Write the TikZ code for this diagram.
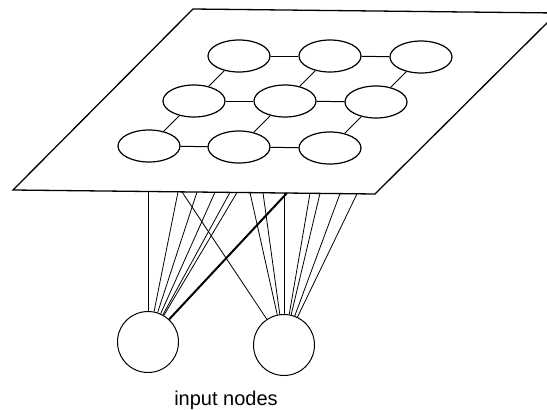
\documentclass[tikz,border=0pt]{standalone}
\usepackage{fontspec}
\setmainfont{Liberation Sans}
\usetikzlibrary{shapes.geometric}
\begin{document}
\begin{tikzpicture}[x=1pt,y=-1pt,
  unit/.style={draw, ellipse, minimum width=62pt, minimum height=32pt, inner sep=0pt, line width=1.2pt},
  innode/.style={draw, circle, minimum size=61pt, inner sep=0pt, line width=1pt},
  link/.style={line width=1pt},
  wire/.style={line width=0.8pt},
  heavy/.style={line width=2pt},
  plane/.style={line width=1.3pt, line join=miter}]
\useasboundingbox (0,0) rectangle (547,410);
% plane
\coordinate (p1) at (193,9);
\coordinate (p2) at (557,13);
\coordinate (p3) at (375,194);
\coordinate (p4) at (13,190);
\begin{scope}
  \clip (0,0) rectangle (547,410);
  \draw[plane] (p1) -- (p2) -- (p3) -- (p4) -- cycle;
\end{scope}
% map units
\node[unit] (u11) at (239,56) {};
\node[unit] (u12) at (330,56) {};
\node[unit] (u13) at (421,57) {};
\node[unit] (u21) at (194,101) {};
\node[unit] (u22) at (285,101) {};
\node[unit] (u23) at (376,102) {};
\node[unit] (u31) at (149,146) {};
\node[unit] (u32) at (239,147) {};
\node[unit] (u33) at (330,148) {};
\foreach \a/\b in {u11/u12,u12/u13,u21/u22,u22/u23,u31/u32,u32/u33,
                   u11/u21,u21/u31,u12/u22,u22/u32,u13/u23,u23/u33}
  \draw[link] (\a) -- (\b);
% input nodes
\node[innode] (a) at (148,342) {};
\node[innode] (b) at (284,345) {};
% attachment points on the plane edge
\coordinate (l0) at (148,191.5);
\coordinate (l1) at (178,191.8);
\coordinate (l2) at (197,192);
\coordinate (l3) at (215,192.2);
\coordinate (l4) at (230,192.4);
\coordinate (l5) at (237,192.5);
\coordinate (lT) at (287,193);
\coordinate (r0) at (182,191.9);
\coordinate (r1) at (250,192.6);
\coordinate (r2) at (263,192.8);
\coordinate (r3) at (284,193);
\coordinate (r4) at (310,193.3);
\coordinate (r5) at (320,193.4);
\coordinate (r6) at (340,193.6);
\coordinate (r7) at (357,193.8);
\foreach \t in {l0,l1,l2,l3,l4,l5}
  \draw[wire] (\t) -- (a);
\draw[heavy] (lT) -- (a);
\foreach \t in {r0,r1,r2,r3,r4,r5,r6,r7}
  \draw[wire] (\t) -- (b);
% label
\node[font=\fontsize{20}{24}\selectfont, anchor=base] (lbl) at (226,405) {input nodes};
\end{tikzpicture}
\end{document}
